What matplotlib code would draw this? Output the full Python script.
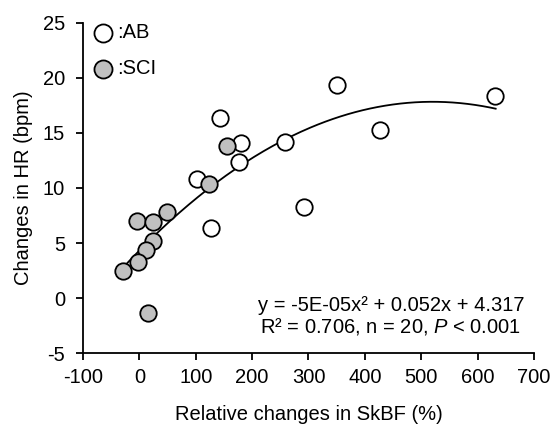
import numpy as np
import matplotlib
matplotlib.use("Agg")
import matplotlib.pyplot as plt

plt.rcParams["font.family"] = ["Liberation Sans", "DejaVu Sans"]
plt.rcParams["mathtext.fontset"] = "custom"
plt.rcParams["mathtext.it"] = "Liberation Sans:italic"
plt.rcParams["mathtext.rm"] = "Liberation Sans"
plt.rcParams["axes.unicode_minus"] = False

# able-bodied (open circles)
ab_x = [143, 180, 177, 258, 102, 127, 350, 427, 630, 292]
ab_y = [16.4, 14.1, 12.4, 14.2, 10.8, 6.4, 19.4, 15.3, 18.4, 8.3]

# spinal cord injury (grey circles)
sci_x = [155, 123, -4, 24, 49, 24, 12, -3, -29, 15]
sci_y = [13.8, 10.4, 7.0, 6.9, 7.8, 5.2, 4.4, 3.3, 2.5, -1.4]

# quadratic fit reported in the figure
fit_coef = [-5e-05, 0.052, 4.317]
fit_range = [-29, 632]

x_ticks = [-100, 0, 100, 200, 300, 400, 500, 600, 700]
y_ticks = [-5, 0, 5, 10, 15, 20, 25]

FS = 14.5


def main():
    fig = plt.figure(figsize=(5.54, 4.25), dpi=100)
    ax = fig.add_axes([0.1498, 0.1694, 0.8141, 0.7765])

    xs = np.linspace(fit_range[0], fit_range[1], 200)
    ax.plot(xs, np.polyval(fit_coef, xs), color="black", lw=1.3, zorder=1)

    ax.scatter(ab_x, ab_y, s=140, facecolor="white", edgecolor="black",
               linewidth=1.3, zorder=3, label=":AB")
    ax.scatter(sci_x, sci_y, s=140, facecolor="#c0c0c0", edgecolor="black",
               linewidth=1.3, zorder=3, label=":SCI")

    ax.set_xlim(-100, 700)
    ax.set_ylim(-5, 25)
    ax.set_xticks(x_ticks)
    ax.set_yticks(y_ticks)
    for s in ["top", "right"]:
        ax.spines[s].set_visible(False)
    for s in ["left", "bottom"]:
        ax.spines[s].set_linewidth(1.3)
    ax.tick_params(direction="out", length=5, width=1.3, labelsize=FS)
    ax.tick_params(axis="y", pad=8)
    ax.tick_params(axis="x", pad=6)

    ax.set_xlabel("Relative changes in SkBF (%)", fontsize=FS, labelpad=13)
    ax.set_ylabel("Changes in HR (bpm)", fontsize=FS, labelpad=7)

    ax.legend(loc="upper left", frameon=False, fontsize=FS,
              handletextpad=-0.3, labelspacing=0.85, markerscale=1.1,
              borderaxespad=0.0, borderpad=0.0)

    ax.text(0.683, 0.145, "y = -5E-05x\u00b2 + 0.052x + 4.317", transform=ax.transAxes,
            ha="center", va="center", fontsize=FS)
    ax.text(0.683, 0.080, "R\u00b2 = 0.706, n = 20, $P$ < 0.001", transform=ax.transAxes,
            ha="center", va="center", fontsize=FS)

    fig.savefig("out.png", dpi=100)


if __name__ == "__main__":
    main()
